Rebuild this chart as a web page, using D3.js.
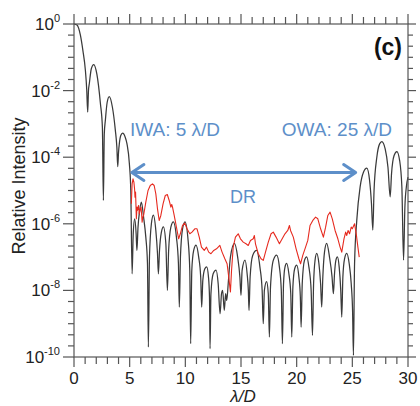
<!DOCTYPE html>
<html><head><meta charset="utf-8">
<script src="https://cdn.jsdelivr.net/npm/d3@7"></script>
<style>body{margin:0;background:#fff} svg{display:block} text{font-family:"Liberation Sans", Arial, Helvetica, sans-serif}</style>
</head><body><svg id="c" width="420" height="406"></svg>
<script>
// ---- data ----
const xTicks = [0, 5, 10, 15, 20, 25, 30];
const yTickExps = [0, -2, -4, -6, -8, -10];
// [lambda/D, log10(relative intensity)]
const blackCurve = [
[0,0],[0.27,-0.03],[0.57,-0.33],[0.8,-0.8],[1.02,-1.38],[1.14,-1.95],[1.23,-2.65],
[1.3,-2.0],[1.38,-1.78],[1.55,-1.35],[1.77,-1.22],[2.05,-1.5],[2.37,-2.38],[2.55,-3.1],[2.64,-5.3],
[2.72,-3.3],[2.82,-2.88],[2.98,-2.35],[3.17,-2.18],[3.45,-2.5],[3.71,-3.18],[3.85,-3.7],[3.93,-4.28],
[4.0,-3.85],[4.07,-3.6],[4.2,-3.35],[4.37,-3.28],[4.6,-3.4],[4.76,-3.6],[4.97,-4.18],[5.1,-5.0],[5.22,-7.5],
[5.32,-6.3],[5.45,-5.85],[5.58,-6.3],[5.65,-6.8],[5.75,-6.1],[5.9,-5.6],[6.05,-5.35],[6.25,-5.8],[6.45,-6.4],[6.6,-7.2],[6.68,-9.7],
[6.78,-7.0],[6.95,-6.0],[7.13,-5.74],[7.35,-6.2],[7.5,-6.9],[7.58,-7.5],[7.68,-6.8],[7.85,-6.25],[8.03,-6.09],[8.25,-6.6],[8.39,-8.0],
[8.5,-6.8],[8.7,-6.1],[8.92,-5.94],[9.2,-6.4],[9.38,-7.2],[9.46,-8.5],[9.56,-7.0],[9.75,-6.15],[9.97,-5.94],[10.25,-6.5],[10.4,-7.4],[10.48,-9.6],
[10.58,-7.4],[10.75,-6.8],[10.96,-6.64],[11.2,-7.0],[11.38,-7.6],[11.47,-8.5],[11.57,-7.7],[11.75,-7.35],[11.92,-7.29],[12.08,-7.6],[12.17,-8.2],[12.22,-9.75],
[12.3,-8.1],[12.5,-7.5],[12.76,-7.39],[12.95,-7.8],[13.12,-8.7],[13.25,-8.1],[13.35,-8.0],[13.5,-8.6],[13.62,-8.1],[13.72,-8.3],[13.85,-7.8],[14.05,-7.0],[14.41,-6.59],[14.7,-7.0],[14.9,-7.6],[15.0,-8.15],
[15.1,-7.4],[15.36,-7.09],[15.55,-7.5],[15.66,-8.0],[15.72,-8.6],[15.82,-7.6],[16.05,-6.95],[16.4,-6.8],[16.7,-7.3],[16.9,-8.0],[17.0,-9.0],
[17.1,-8.0],[17.3,-7.74],[17.45,-8.1],[17.55,-9.4],[17.65,-7.9],[17.9,-7.1],[18.2,-6.94],[18.45,-7.3],[18.62,-8.0],[18.72,-9.6],
[18.82,-7.8],[18.95,-7.3],[19.1,-7.19],[19.3,-7.5],[19.47,-8.1],[19.56,-9.4],[19.66,-7.9],[19.82,-7.35],[20.0,-7.24],[20.2,-7.6],[20.33,-8.2],[20.4,-9.1],
[20.5,-7.8],[20.7,-7.1],[20.9,-6.99],[21.1,-7.3],[21.3,-8.0],[21.42,-9.35],[21.52,-7.8],[21.65,-7.1],[21.8,-6.89],[22.0,-7.2],[22.15,-7.8],[22.25,-8.5],
[22.35,-7.6],[22.5,-6.85],[22.7,-6.59],[22.95,-7.0],[23.18,-7.6],[23.3,-8.1],[23.4,-7.5],[23.52,-7.1],[23.66,-6.99],[23.82,-7.3],[23.96,-8.0],[24.05,-8.8],
[24.15,-7.6],[24.3,-7.05],[24.5,-6.89],[24.72,-7.2],[24.9,-7.8],[25.02,-8.6],[25.1,-9.95],
[25.2,-7.2],[25.4,-5.89],[25.7,-4.89],[26.0,-4.45],[26.3,-4.33],[26.55,-4.7],[26.72,-5.4],[26.84,-6.19],
[26.95,-5.0],[27.2,-4.0],[27.45,-3.6],[27.65,-3.53],[27.95,-3.75],[28.2,-4.3],[28.4,-5.19],
[28.52,-4.5],[28.75,-3.95],[29.0,-3.83],[29.25,-4.1],[29.45,-4.9],[29.6,-7.09],
[29.72,-5.5],[29.85,-4.9],[30.0,-4.6]
];
const redCurve = [
[5.15,-5.4],[5.22,-4.8],[5.3,-4.65],[5.38,-4.75],[5.44,-4.95],[5.48,-5.2],[5.53,-5.05],[5.6,-5.85],[5.66,-5.5],[5.7,-5.6],[5.8,-5.45],[5.86,-5.7],[5.92,-5.6],[6.02,-5.5],[6.08,-5.75],[6.12,-5.95],[6.18,-5.8],[6.25,-5.75],[6.45,-5.35],[6.65,-5.0],[6.85,-4.85],[7.05,-4.8],[7.2,-4.85],[7.35,-5.1],[7.5,-5.55],[7.65,-5.9],[7.8,-5.75],[8.0,-5.4],[8.2,-5.15],[8.38,-5.12],[8.55,-5.3],[8.7,-5.5],[8.78,-5.42],[8.85,-5.5],[9.0,-5.75],[9.2,-6.1],[9.4,-6.45],[9.55,-6.3],[9.75,-6.05],[9.95,-5.98],[10.15,-6.15],[10.4,-6.3],[10.6,-6.25],[10.85,-6.15],[11.05,-6.15],[11.25,-6.4],[11.45,-6.7],[11.7,-6.8],[11.9,-6.7],[12.1,-6.85],[12.3,-6.9],[12.55,-6.8],[12.8,-6.75],[13.1,-6.65],[13.3,-6.85],[13.55,-7.05],[13.75,-7.2],[13.9,-7.6],[14.05,-8.05],[14.15,-7.4],[14.3,-6.7],[14.5,-6.4],[14.75,-6.3],[14.95,-6.45],[15.2,-6.55],[15.45,-6.6],[15.65,-6.65],[15.85,-6.5],[16.1,-6.45],[16.2,-6.35],[16.3,-6.6],[16.55,-6.9],[16.8,-7.05],[17.0,-7.1],[17.2,-6.85],[17.45,-6.55],[17.7,-6.3],[17.9,-6.25],[18.15,-6.4],[18.45,-6.6],[18.7,-6.45],[18.95,-6.3],[19.2,-6.2],[19.35,-6.05],[19.45,-6.2],[19.7,-6.4],[19.95,-6.75],[20.2,-7.05],[20.35,-7.2],[20.55,-6.95],[20.8,-6.7],[21.0,-6.5],[21.2,-6.05],[21.45,-5.9],[21.7,-5.8],[21.9,-5.85],[22.15,-6.15],[22.4,-6.4],[22.6,-6.1],[22.8,-5.75],[23.0,-5.65],[23.2,-5.85],[23.45,-6.2],[23.7,-6.45],[23.9,-6.7],[24.05,-6.85],[24.25,-6.45],[24.4,-6.25],[24.5,-6.35],[24.62,-6.2],[24.75,-6.3],[24.9,-6.1],[25.0,-6.15],[25.2,-6.0],[25.35,-6.3],[25.5,-6.7],[25.62,-7.0]
];
const drSpan = [5.2, 25.3];   // arrow ends in lambda/D
const drLevel = -4.46;        // log10 intensity of arrow
const labels = {iwa: "IWA: 5 λ/D", owa: "OWA: 25 λ/D", dr: "DR", panel: "(c)", xTitle: "λ/D", yTitle: "Relative Intensity"};

// ---- chart ----
const svg = d3.select("#c");
const L = 74, R = 408, T = 24, B = 357;
const x = d3.scaleLinear().domain([0, 30]).range([L, R]);
const y = d3.scaleLog().domain([1e-10, 1]).range([B, T]);
const axisCol = "#555";
const blue = "#5d8fc9";

// curves
const line = d3.line().x(d => x(d[0])).y(d => y(Math.pow(10, d[1])));
svg.append("path").datum(blackCurve)
  .attr("d", line.curve(d3.curveMonotoneX)).attr("fill", "none")
  .attr("stroke", "#3a3a3a").attr("stroke-width", 1.25).attr("stroke-linejoin", "round");
svg.append("path").datum(redCurve)
  .attr("d", d3.line().x(d => x(d[0])).y(d => y(Math.pow(10, d[1]))).curve(d3.curveLinear)).attr("fill", "none")
  .attr("stroke", "#e62a1f").attr("stroke-width", 1.1).attr("stroke-linejoin", "round");

// frame
svg.append("rect").attr("x", L).attr("y", T).attr("width", R - L).attr("height", B - T)
  .attr("fill", "none").attr("stroke", axisCol).attr("stroke-width", 1.2);

// x ticks
const g = svg.append("g").attr("stroke", axisCol).attr("stroke-width", 1.2);
d3.range(0, 31).forEach(v => {
  const major = v % 5 === 0;
  const px = x(v);
  g.append("line").attr("x1", px).attr("x2", px).attr("y1", B).attr("y2", B + (major ? 10 : 7));
  g.append("line").attr("x1", px).attr("x2", px).attr("y1", T).attr("y2", T - (major ? 10 : 7));
});
// y ticks every 1/3 decade
d3.range(0, 31).forEach(k => {
  const major = k % 6 === 0;
  const py = y(Math.pow(10, -k / 3));
  g.append("line").attr("x1", L).attr("x2", L - (major ? 11 : 6)).attr("y1", py).attr("y2", py);
  g.append("line").attr("x1", R).attr("x2", R + (major ? 8 : 5)).attr("y1", py).attr("y2", py);
});

// x labels
svg.append("g").selectAll("text").data(xTicks).join("text")
  .attr("x", d => x(d)).attr("y", 384).attr("text-anchor", "middle")
  .attr("font-size", 17).attr("fill", "#222").text(d => d);
// y labels
const yl = svg.append("g").selectAll("text").data(yTickExps).join("text")
  .attr("x", 60).attr("y", d => y(Math.pow(10, d)) + 6).attr("text-anchor", "end")
  .attr("font-size", 17).attr("fill", "#222");
yl.append("tspan").text("10");
yl.append("tspan").attr("dy", -8).attr("font-size", 11).text(d => d);

// titles
svg.append("text").attr("x", 243).attr("y", 402).attr("text-anchor", "middle")
  .attr("font-size", 17).attr("font-style", "italic").attr("fill", "#222").text(labels.xTitle);
svg.append("text").attr("transform", "translate(25,186) rotate(-90)").attr("text-anchor", "middle")
  .attr("font-size", 18).attr("fill", "#222").text(labels.yTitle);
svg.append("text").attr("x", 402).attr("y", 55).attr("text-anchor", "end")
  .attr("font-size", 23).attr("font-weight", 600).attr("fill", "#111").text(labels.panel);

// annotations
svg.append("text").attr("x", 130).attr("y", 136).attr("font-size", 19).attr("fill", blue).text(labels.iwa);
svg.append("text").attr("x", 392).attr("y", 136).attr("text-anchor", "end").attr("font-size", 19).attr("fill", blue).text(labels.owa);
svg.append("text").attr("x", 243).attr("y", 203).attr("text-anchor", "middle").attr("font-size", 18).attr("fill", blue).text(labels.dr);

const ay = y(Math.pow(10, drLevel));
const x0 = x(drSpan[0]), x1 = x(drSpan[1]);
const ag = svg.append("g").attr("stroke", blue).attr("stroke-width", 3).attr("fill", "none").attr("stroke-linecap", "round").attr("stroke-linejoin", "round");
ag.append("line").attr("x1", x0 + 1).attr("x2", x1 - 1).attr("y1", ay).attr("y2", ay);
ag.append("path").attr("d", `M${x0 + 12},${ay - 8} L${x0},${ay} L${x0 + 12},${ay + 8}`);
ag.append("path").attr("d", `M${x1 - 12},${ay - 8} L${x1},${ay} L${x1 - 12},${ay + 8}`);
</script></body></html>
